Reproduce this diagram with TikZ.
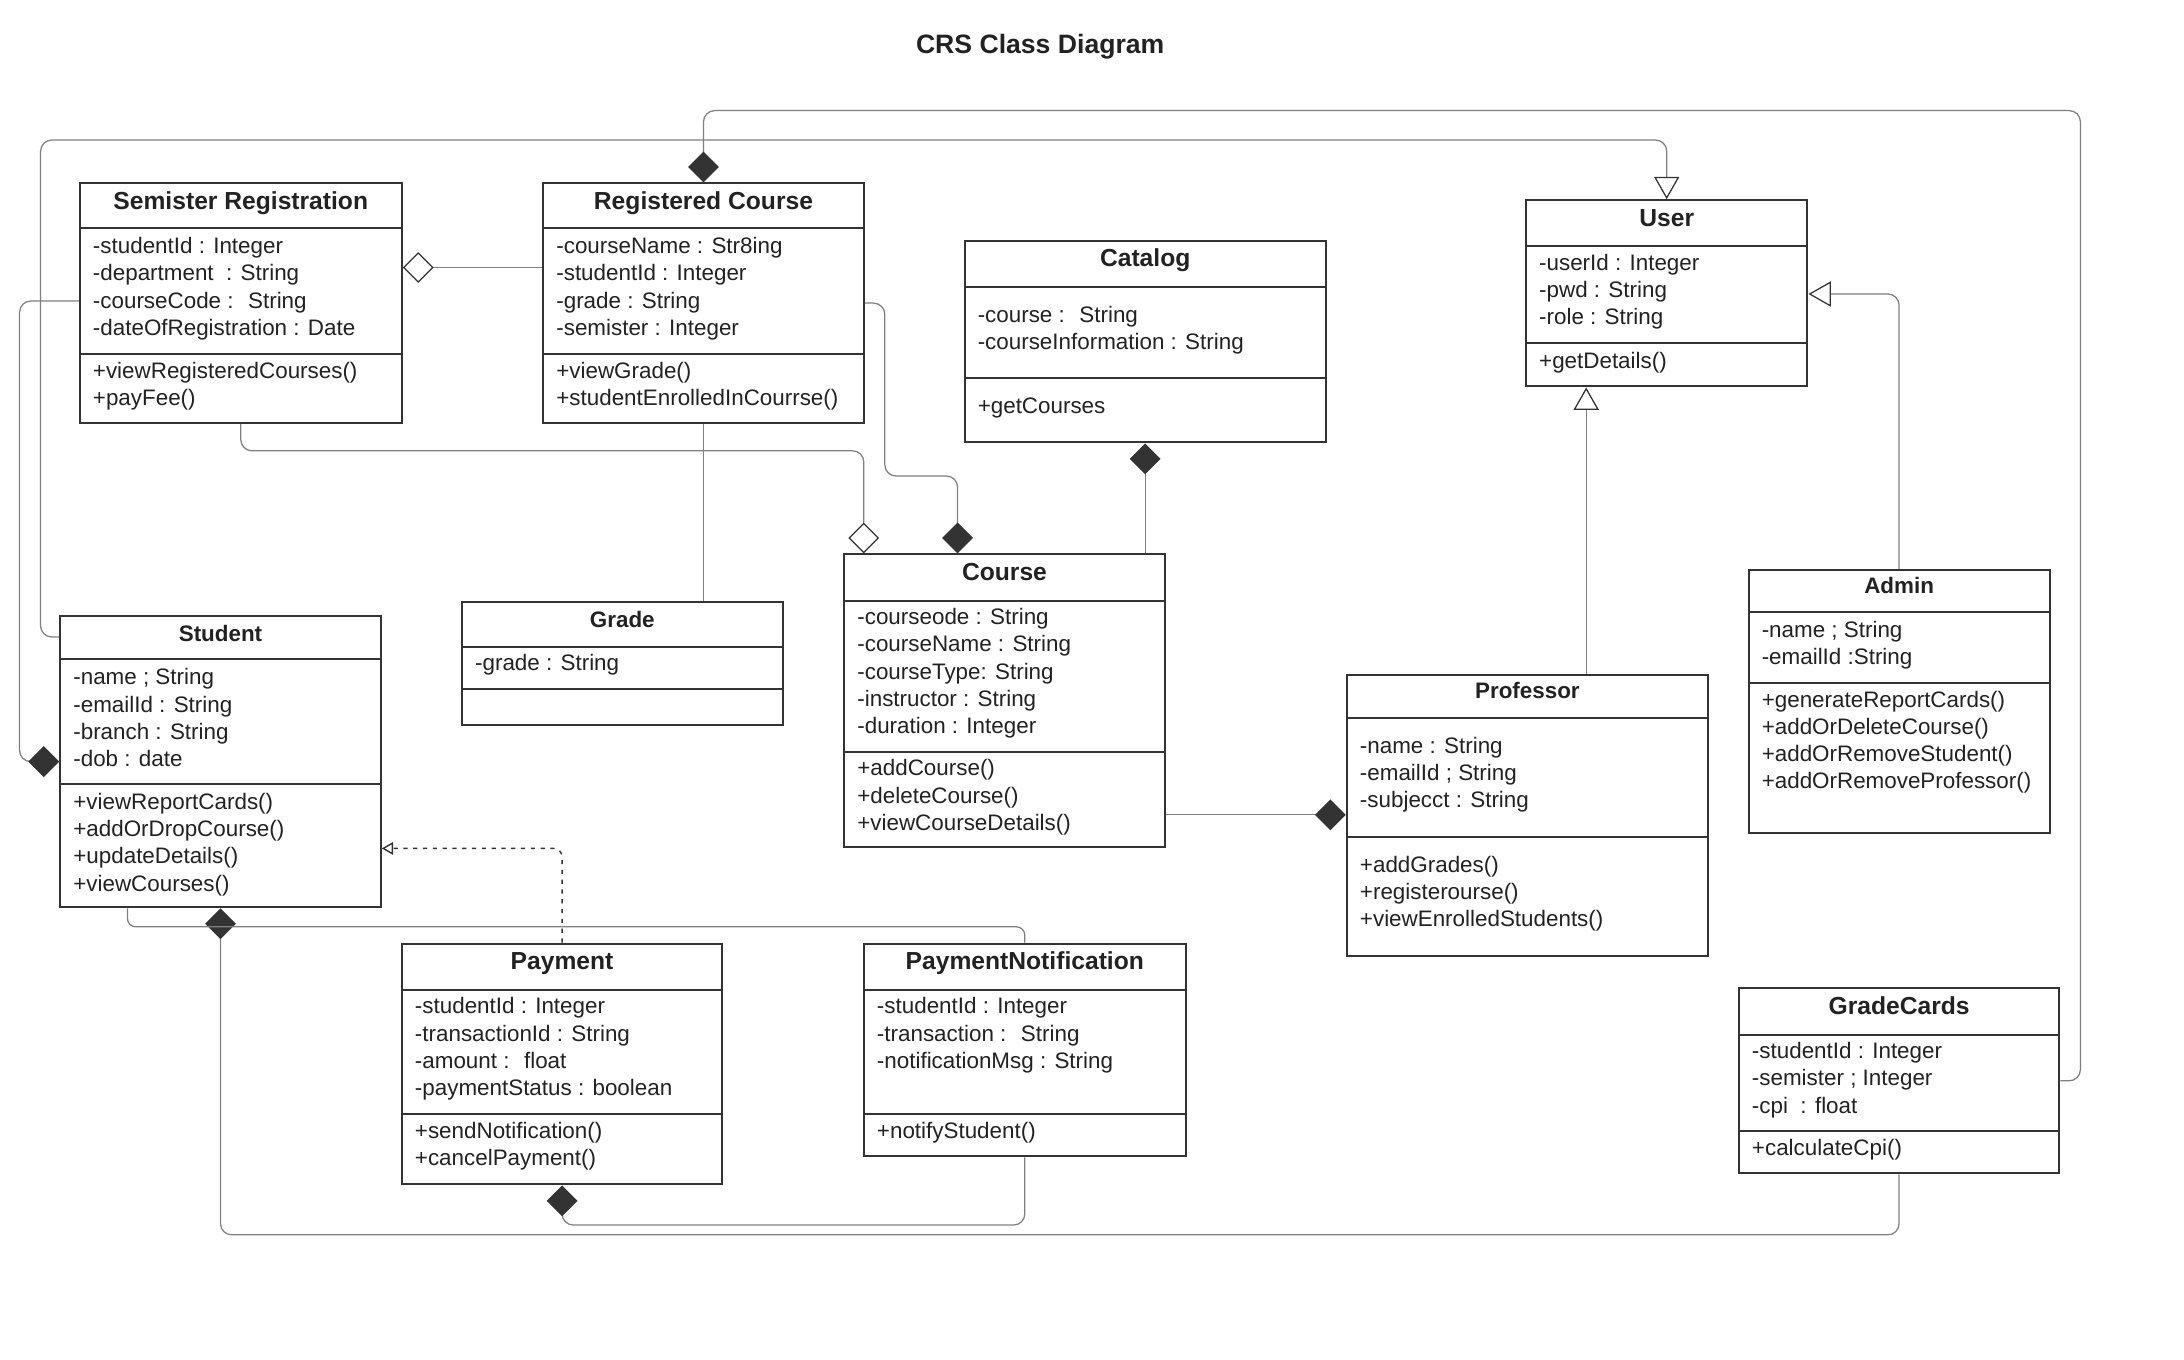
\documentclass[tikz,border=0pt]{standalone}
\usepackage{fontspec}
\setmainfont{Liberation Sans}
\usetikzlibrary{arrows.meta,fit}
\definecolor{dk}{HTML}{333333}
\definecolor{ln}{HTML}{808080}
\definecolor{tx}{HTML}{222222}
\tikzset{
  box/.style={draw=dk, line width=0.75pt, fill=white, inner sep=0pt},
  sepline/.style={draw=dk, line width=0.75pt},
  attr/.style={anchor=west, inner sep=0pt, text=tx, font=\fontsize{8}{9.7}\selectfont, text height=5.8pt, text depth=1.6pt},
  ttl/.style={inner sep=0pt, text=tx, font=\bfseries\fontsize{8.8}{10}\selectfont, text height=6.4pt, text depth=1.8pt},
  ttls/.style={inner sep=0pt, text=tx, font=\bfseries\fontsize{8}{9.7}\selectfont, text height=5.8pt, text depth=1.6pt},
  conn/.style={draw=ln, line width=0.45pt, rounded corners=4pt},
  comp/.style={-{Diamond[length=11pt,width=11pt,fill=dk,color=dk]}},
  agg/.style={-{Diamond[length=11pt,width=11pt,fill=white,color=dk]}},
  aggs/.style={{Diamond[length=11pt,width=11pt,fill=white,color=dk]}-},
  gen/.style={-{Triangle[length=8pt,width=9pt,fill=white,color=dk]}},
  real/.style={draw=dk, line width=0.5pt, dash pattern=on 1.5pt off 2pt, rounded corners=3pt,
    -{Triangle[length=4pt,width=4.5pt,fill=white,color=dk]}}
}
\newcommand\umlclass[5]{\node[box, fit={(#2,#3) (#4,#5)}] (#1) {};}
\newcommand\hsep[2]{\draw[sepline] (#1.west |- 0,#2) -- (#1.east |- 0,#2);}
\newcommand\rows[4]{\foreach \t [count=\i from 0] in {#4} {\node[attr] (#1\i) at (#2,{#3+19.45*\i}) {\t};}}
\begin{document}
\begin{tikzpicture}[x=0.5pt,y=-0.5pt]
\useasboundingbox[fill=white] (0,0) rectangle (1560,971.4);
\node[inner sep=0pt, text=tx, font=\bfseries\fontsize{9.5}{11}\selectfont] (title) at (743,33) {CRS Class Diagram};

% Semister Registration
\umlclass{semreg}{57}{131}{287}{302}
\hsep{semreg}{163}\hsep{semreg}{253}
\node[ttl] (semregT) at (semreg.north |- 0,145) {Semister Registration};
\rows{semregA}{66}{177}{-studentId : Integer,-department~ : String,-courseCode :~ String,-dateOfRegistration : Date}
\rows{semregM}{66}{266}{+viewRegisteredCourses(),+payFee()}

% Registered Course
\umlclass{regcourse}{388}{131}{617}{302}
\hsep{regcourse}{163}\hsep{regcourse}{253}
\node[ttl] (regcourseT) at (regcourse.north |- 0,145) {Registered Course};
\rows{regcourseA}{397}{177}{-courseName : Str8ing,-studentId : Integer,-grade : String,-semister : Integer}
\rows{regcourseM}{397}{266}{+viewGrade(),+studentEnrolledInCourrse()}

% Catalog
\umlclass{catalog}{689}{172}{947}{316}
\hsep{catalog}{205}\hsep{catalog}{270}
\node[ttl] (catalogT) at (catalog.north |- 0,186) {Catalog};
\rows{catalogA}{698}{226}{-course :~ String,-courseInformation : String}
\rows{catalogM}{698}{291}{+getCourses}

% User
\umlclass{user}{1090}{143}{1291}{276}
\hsep{user}{176}\hsep{user}{245}
\node[ttl] (userT) at (user.north |- 0,157) {User};
\rows{userA}{1099}{189}{-userId : Integer,-pwd : String,-role : String}
\rows{userM}{1099}{259}{+getDetails()}

% Course
\umlclass{course}{603}{396}{832}{605}
\hsep{course}{429}\hsep{course}{537}
\node[ttl] (courseT) at (course.north |- 0,410) {Course};
\rows{courseA}{612}{442}{-courseode : String,-courseName : String,-courseType: String,-instructor : String,-duration : Integer}
\rows{courseM}{612}{550}{+addCourse(),+deleteCourse(),+viewCourseDetails()}

% Grade
\umlclass{grade}{330}{430}{559}{518}
\hsep{grade}{462}\hsep{grade}{492}
\node[ttls] (gradeT) at (grade.north |- 0,444) {Grade};
\rows{gradeA}{339}{475}{-grade : String}

% Student
\umlclass{student}{43}{440}{272}{648}
\hsep{student}{471}\hsep{student}{560}
\node[ttls] (studentT) at (student.north |- 0,454) {Student};
\rows{studentA}{52}{485}{-name ; String,-emailId : String,-branch : String,-dob : date}
\rows{studentM}{52}{574}{+viewReportCards(),+addOrDropCourse(),+updateDetails(),+viewCourses()}

% Professor
\umlclass{professor}{962}{482}{1220}{683}
\hsep{professor}{513}\hsep{professor}{598}
\node[ttls] (professorT) at (professor.north |- 0,495) {Professor};
\rows{professorA}{971}{534}{-name : String,-emailId ; String,-subjecct : String}
\rows{professorM}{971}{619}{+addGrades(),+registerourse(),+viewEnrolledStudents()}

% Admin
\umlclass{admin}{1249}{407}{1464}{595}
\hsep{admin}{437}\hsep{admin}{488}
\node[ttls] (adminT) at (admin.north |- 0,420) {Admin};
\rows{adminA}{1258}{451}{-name ; String,-emailId :String}
\rows{adminM}{1258}{501}{+generateReportCards(),+addOrDeleteCourse(),+addOrRemoveStudent(),+addOrRemoveProfessor()}

% Payment
\umlclass{payment}{287}{674}{516}{846}
\hsep{payment}{707}\hsep{payment}{796}
\node[ttl] (paymentT) at (payment.north |- 0,688) {Payment};
\rows{paymentA}{296}{720}{-studentId : Integer,-transactionId : String,-amount :~ float,-paymentStatus : boolean}
\rows{paymentM}{296}{809}{+sendNotification(),+cancelPayment()}

% PaymentNotification
\umlclass{paynotif}{617}{674}{847}{826}
\hsep{paynotif}{707}\hsep{paynotif}{796}
\node[ttl] (paynotifT) at (paynotif.north |- 0,688) {PaymentNotification};
\rows{paynotifA}{626}{720}{-studentId : Integer,-transaction :~ String,-notificationMsg : String}
\rows{paynotifM}{626}{809}{+notifyStudent()}

% GradeCards
\umlclass{gradecards}{1242}{706}{1471}{838}
\hsep{gradecards}{739}\hsep{gradecards}{808}
\node[ttl] (gradecardsT) at (gradecards.north |- 0,720) {GradeCards};
\rows{gradecardsA}{1251}{752}{-studentId : Integer,-semister ; Integer,-cpi~ : float}
\rows{gradecardsM}{1251}{821}{+calculateCpi()}

% connectors
\draw[conn, comp] (gradecards.east) -| (1486,79) -| (regcourse.north);
\draw[conn, gen] (student.west |- 0,455) -| (29,100) -| (user.north);
\draw[conn, comp] (semreg.west |- 0,215) -| (14,544) -- (student.west);
\draw[conn, aggs] (semreg.east |- 0,191) -- (regcourse.west |- 0,191);
\draw[conn, agg] (semreg.south) |- (617,322) -- (course.north -| 617,0);
\draw[conn, comp] (regcourse.east) -| (632,340) -| (course.north -| 684,0);
\draw[conn] (regcourse.south) -- (grade.north -| regcourse.south);
\draw[conn, comp] (course.north -| catalog.south) -- (catalog.south);
\draw[conn, gen] (professor.north -| 1133,0) -- (user.south -| 1133,0);
\draw[conn, gen] (admin.north) |- (user.east |- 0,210);
\draw[conn, comp] (course.east |- 0,582) -- (professor.west |- 0,582);
\draw[real] (payment.north) |- (student.east |- 0,606);
\draw[conn, comp] (gradecards.south) |- (student.south |- 0,882) -- (student.south);
\draw[conn, rounded corners=3pt] (student.south -| 91,0) |- (paynotif.north |- 0,662) -- (paynotif.north);
\draw[conn, comp] (paynotif.south) |- (payment.south |- 0,875) -- (payment.south);
\end{tikzpicture}
\end{document}
